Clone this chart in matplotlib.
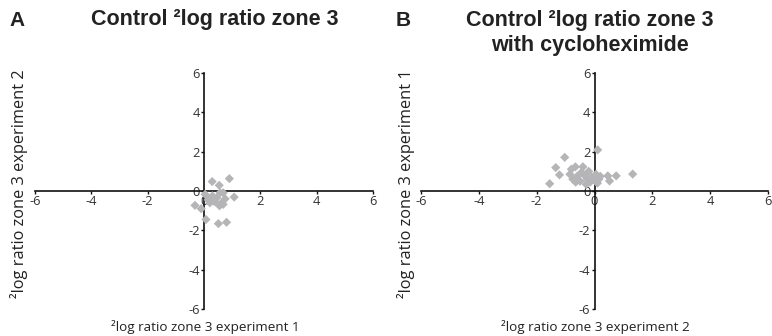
import matplotlib
matplotlib.use("Agg")
import matplotlib.pyplot as plt

plt.rcParams['axes.unicode_minus'] = False

# Panel A data (x = experiment 1, y = experiment 2)
a_x = [0.29, 0.54, 0.90, 0.04, 0.33, 0.57, 0.68, 1.07, -0.32, 0.21, 0.63, 0.68,
       0.07, 0.51, 0.80, 0.45, 0.75, 0.55, 0.30, 0.15, -0.10, 0.40]
a_y = [0.48, 0.29, 0.63, -0.17, -0.51, -0.09, -0.09, -0.31, -0.73, -0.60, -0.60, -0.68,
       -1.45, -1.66, -1.59, -0.35, -0.40, -0.75, -0.25, -0.45, -0.90, -0.55]

# Panel B data (x = experiment 2, y = experiment 1)
b_x = [-1.03, -1.34, -1.21, -1.55, -0.80, -0.66, -0.40, 0.11, 0.46, 0.75, 1.32, -0.29,
       0.52, -0.85, -0.75, -0.60, -0.50, -0.35, -0.25, -0.20, -0.10, 0.00, 0.05, 0.15,
       -0.45, 0.10, -0.15, 0.20, -0.65]
b_y = [1.71, 1.19, 0.82, 0.37, 1.11, 1.23, 1.23, 2.09, 0.77, 0.77, 0.86, 0.34,
       0.51, 0.85, 0.60, 0.75, 0.50, 0.80, 0.60, 1.00, 0.70, 0.55, 0.85, 0.60,
       0.95, 0.40, 0.45, 0.75, 0.45]

ticks = [-6, -4, -2, 0, 2, 4, 6]
tick_labels = ["-6", "-4", "-2", "0", "2", "4", "6"]

titles = ["Control \u00b2log ratio zone 3", "Control \u00b2log ratio zone 3\nwith cycloheximide"]
panel_letters = ["A", "B"]
xlabels = ["\u00b2log ratio zone 3 experiment 1", "\u00b2log ratio zone 3 experiment 2"]
ylabels = ["\u00b2log ratio zone 3 experiment 2", "\u00b2log ratio zone 3 experiment 1"]

fig = plt.figure(figsize=(7.72, 3.36), dpi=100)
W, H = 772, 336

def fx(px):
    return px / W

def fy(py):
    return 1 - py / H

boxes = [(35, 373), (421, 768)]
top_px, bot_px = 73, 309
datasets = [(a_x, a_y), (b_x, b_y)]
point_color = "#b5b5b8"
tick_font = dict(family=["Open Sans", "DejaVu Sans"], size=9.3, color="#333333")

for i, ((l, r), (xs, ys)) in enumerate(zip(boxes, datasets)):
    ax = fig.add_axes([fx(l), fy(bot_px), fx(r) - fx(l), fy(top_px) - fy(bot_px)])
    ax.scatter(xs, ys, marker="D", s=22, color=point_color, edgecolors="none", zorder=3)
    ax.set_xlim(-6, 6)
    ax.set_ylim(-6, 6)
    for side in ["top", "right"]:
        ax.spines[side].set_visible(False)
    ax.spines["left"].set_position(("data", 0))
    ax.spines["bottom"].set_position(("data", 0))
    for side in ["left", "bottom"]:
        ax.spines[side].set_linewidth(1.2)
        ax.spines[side].set_color("#111111")
    ax.set_xticks(ticks)
    ax.set_yticks(ticks)
    ax.set_xticklabels(tick_labels, fontdict=tick_font)
    ax.set_yticklabels(tick_labels, fontdict=tick_font)
    ax.tick_params(direction="out", length=2.5, width=1.0, color="#111111", pad=0.5)
    ax.patch.set_alpha(0)

    cx = (l + r) / 2
    fig.text(fx(cx + 1), fy(327), xlabels[i], ha="center", va="center",
             family=["Open Sans", "DejaVu Sans"], size=9.7, color="#222222")
    ylx = 19 if i == 0 else 406
    fig.text(fx(ylx), fy(184), ylabels[i], ha="center", va="center", rotation=90,
             family=["Open Sans", "DejaVu Sans"], size=11.8, color="#222222")

fig.text(fx(9), fy(20), "A", ha="left", va="center", family=["Liberation Sans"],
         weight="bold", size=15, color="#222222")
fig.text(fx(396), fy(20), "B", ha="left", va="center", family=["Liberation Sans"],
         weight="bold", size=15, color="#222222")
fig.text(fx(215), fy(20), titles[0], ha="center", va="center", family=["Liberation Sans"],
         weight="bold", size=15.5, color="#222222")
fig.text(fx(590), fy(33), titles[1], ha="center", va="center", family=["Liberation Sans"],
         weight="bold", size=15.5, color="#222222", linespacing=1.25)

fig.savefig("out.png", dpi=100)
